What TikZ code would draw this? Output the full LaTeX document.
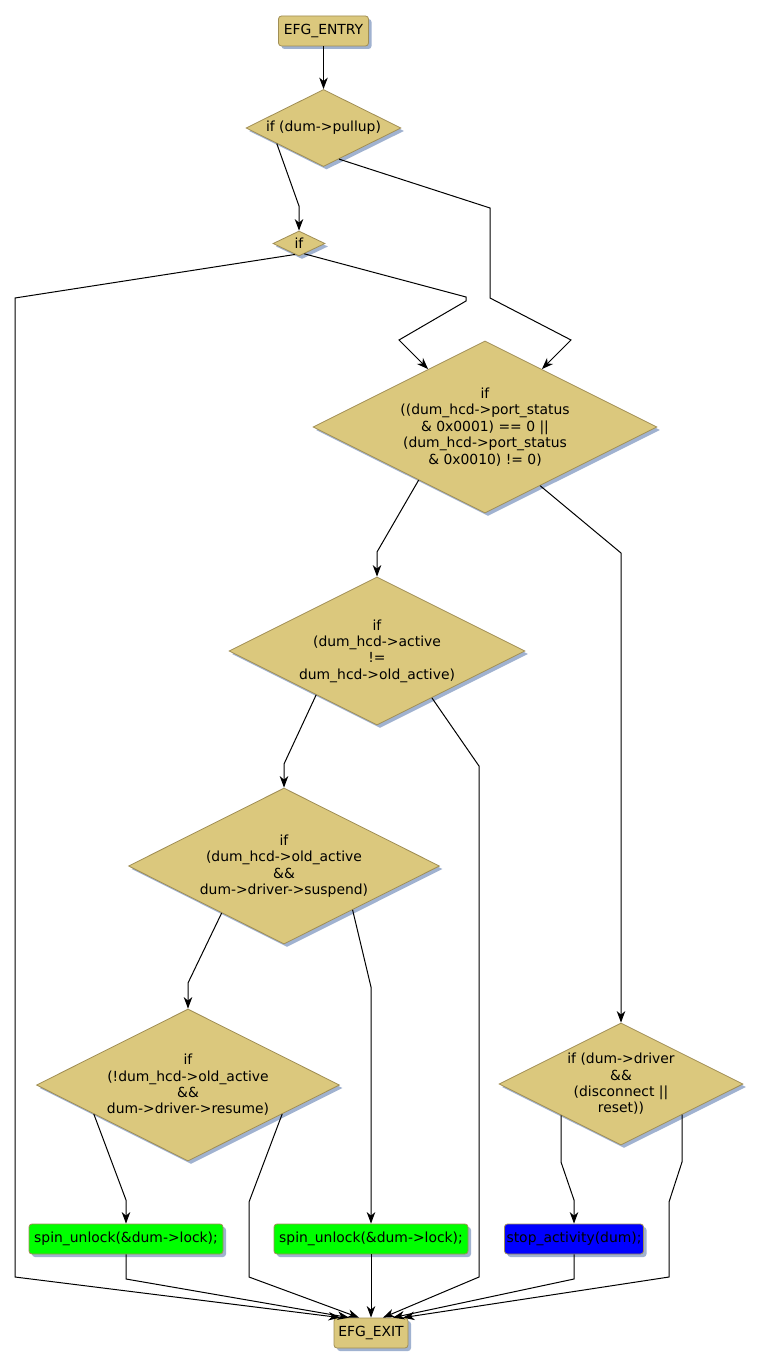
\documentclass[tikz,border=0pt]{standalone}
\usepackage{fontspec}
\setmainfont{DejaVu Sans}
\usetikzlibrary{shapes.geometric,shadows,arrows.meta,calc}
\definecolor{tanfill}{HTML}{DBC87D}
\definecolor{tanborder}{HTML}{A08E55}
\definecolor{shadowblue}{HTML}{A0B2D0}
\definecolor{boxgreen}{HTML}{00FF00}
\definecolor{boxblue}{HTML}{0000FF}
\begin{document}
\begin{tikzpicture}[x=1pt,y=-1pt,
  every node/.style={font=\fontsize{13.9}{16.4}\selectfont, text=black},
  shadowed/.style={drop shadow={shadow xshift=3pt,shadow yshift=-3pt,fill=shadowblue,opacity=1}},
  cond/.style={diamond, draw=tanborder, fill=tanfill, line width=0.8pt, inner sep=0pt, aspect=2, align=center, shadowed},
  act/.style={rectangle, rounded corners=3pt, draw=tanborder, line width=0.8pt, inner sep=0pt, minimum height=30pt, shadowed},
  conn/.style={draw=black, line width=1pt, -{Stealth[length=11.5pt,width=8.5pt,inset=3.5pt]}},
  link/.style={draw=black, line width=1pt}
]
\useasboundingbox[fill=white] (0,0) rectangle (762,1367);

% nodes
\node[act, fill=tanfill, minimum width=90pt] (entry) at (323.5,31) {EFG\_ENTRY};
\node[cond, minimum width=155pt, minimum height=77pt] (d1) at (323.5,128) {if (dum->pullup)};
\node[cond, minimum width=52pt, minimum height=25pt] (d2) at (299,243.5) {if};
\node[cond, minimum width=344pt, minimum height=172pt] (d3) at (485,427)
  {if\\((dum\_hcd->port\_status\\\& 0x0001) == 0 ||\\(dum\_hcd->port\_status\\\& 0x0010) != 0)};
\node[cond, minimum width=296pt, minimum height=148pt] (d4) at (377,651)
  {if\\(dum\_hcd->active\\!=\\dum\_hcd->old\_active)};
\node[cond, minimum width=311pt, minimum height=156pt] (d5) at (284,866)
  {if\\(dum\_hcd->old\_active\\\&\&\\dum->driver->suspend)};
\node[cond, minimum width=303pt, minimum height=152pt] (d6) at (188,1085)
  {if\\(!dum\_hcd->old\_active\\\&\&\\dum->driver->resume)};
\node[cond, minimum width=244pt, minimum height=122pt] (d7) at (621,1084)
  {if (dum->driver\\\&\&\\(disconnect ||\\reset))};
\node[act, fill=boxgreen, minimum width=194pt] (spin1) at (126,1239) {spin\_unlock(\&dum->lock);};
\node[act, fill=boxgreen, minimum width=194pt] (spin2) at (371,1239) {spin\_unlock(\&dum->lock);};
\node[act, fill=boxblue, minimum width=139pt] (stop) at (574,1239) {stop\_activity(dum);};
\node[act, fill=tanfill, minimum width=74pt] (exit) at (371,1333) {EFG\_EXIT};

% connectors
\draw[conn] (entry.south) -- (d1.north);
\draw[conn] ($(d1.west)!0.4!(d1.south)$) -- (299,206) -- (d2.north);
\draw[conn] ($(d1.south)!0.2!(d1.east)$) -- (490,208) -- (490,298) -- (571,340) -- ($(d3.north)!0.33!(d3.east)$);
\draw[conn] ($(d2.west)!0.85!(d2.south)$) -- (15,298) -- (15,1277) -- ($(exit.north)+(-31,0)$);
\draw[conn] ($(d2.south)!0.2!(d2.east)$) -- (466,297) -- (466,301) -- (399,340) -- ($(d3.west)!0.67!(d3.north)$);
\draw[conn] ($(d3.west)!0.615!(d3.south)$) -- (377,552) -- (d4.north);
\draw[conn] ($(d3.south)!0.32!(d3.east)$) -- (621,553) -- (d7.north);
\draw[conn] ($(d4.west)!0.59!(d4.south)$) -- (284,764) -- (d5.north);
\draw[conn] ($(d4.south)!0.37!(d4.east)$) -- (479,766) -- (479,1277) -- ($(exit.north)+(12,0)$);
\draw[conn] ($(d5.west)!0.6!(d5.south)$) -- (188,983) -- (d6.north);
\draw[conn] ($(d5.south)!0.44!(d5.east)$) -- (371,987) -- (spin2.north);
\draw[conn] ($(d6.west)!0.38!(d6.south)$) -- (126,1200) -- (spin1.north);
\draw[conn] ($(d6.south)!0.62!(d6.east)$) -- (249,1202) -- (249,1277) -- ($(exit.north)+(-12,0)$);
\draw[conn] ($(d7.west)!0.51!(d7.south)$) -- (561,1162) -- (574,1200) -- (stop.north);
\draw[conn] ($(d7.south)!0.5!(d7.east)$) -- (682,1162) -- (669,1202) -- (669,1277) -- ($(exit.north)+(32,0)$);
\draw[conn] (spin1.south) -- (126,1279) -- ($(exit.north)+(-22,0)$);
\draw[conn] (spin2.south) -- (exit.north);
\draw[conn] (stop.south) -- (574,1279) -- ($(exit.north)+(22,0)$);
\end{tikzpicture}
\end{document}
